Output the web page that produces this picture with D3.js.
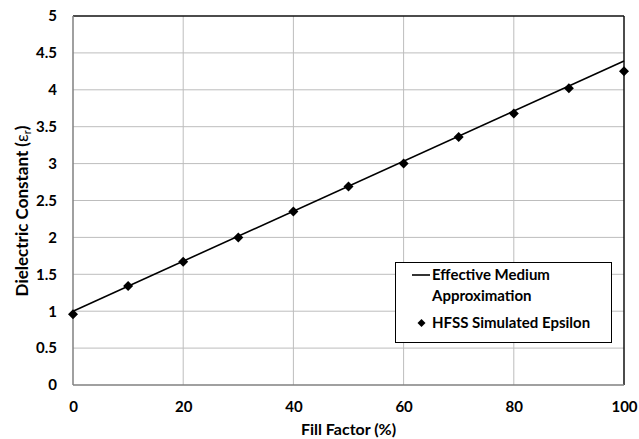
<!DOCTYPE html>
<html>
<head>
<meta charset="utf-8">
<script src="https://cdn.jsdelivr.net/npm/d3@7"></script>
<style>
  html, body { margin: 0; padding: 0; background: #fff; }
  svg { display: block; }
  text { font-family: Lato, "Open Sans", sans-serif; font-weight: bold; fill: #000; }
</style>
</head>
<body>
<svg id="chart" width="639" height="439"></svg>
<script>
// Fill factor (%) at which HFSS was run
const fillFactor = [0, 10, 20, 30, 40, 50, 60, 70, 80, 90, 100];
// HFSS simulated effective permittivity
const hfssEpsilon = [0.96, 1.34, 1.67, 2.00, 2.35, 2.69, 3.00, 3.36, 3.68, 4.02, 4.25];
// Effective medium approximation (linear mix)
const emaFill = [0, 100];
const emaEpsilon = [1.0, 4.39];

const xTicks = [0, 20, 40, 60, 80, 100];
const yTicks = [0, 0.5, 1, 1.5, 2, 2.5, 3, 3.5, 4, 4.5, 5];

const legendLabels = ["Effective Medium", "Approximation", "HFSS Simulated Epsilon"];

const svg = d3.select("#chart");
const m = { left: 73, right: 624, top: 16, bottom: 385 };

const x = d3.scaleLinear().domain([0, 100]).range([m.left, m.right]);
const y = d3.scaleLinear().domain([0, 5]).range([m.bottom, m.top]);

// gridlines
svg.append("g").selectAll("line").data(yTicks.filter(d => d > 0 && d < 5)).join("line")
  .attr("x1", m.left).attr("x2", m.right)
  .attr("y1", d => y(d)).attr("y2", d => y(d))
  .attr("stroke", "#bdbdbd").attr("stroke-width", 1);
svg.append("g").selectAll("line").data(xTicks.filter(d => d > 0 && d < 100)).join("line")
  .attr("y1", m.top).attr("y2", m.bottom)
  .attr("x1", d => x(d)).attr("x2", d => x(d))
  .attr("stroke", "#bdbdbd").attr("stroke-width", 1);

// plot frame: top and right in black, axes in grey
svg.append("line").attr("x1", m.left).attr("x2", m.right).attr("y1", m.top).attr("y2", m.top)
  .attr("stroke", "#111").attr("stroke-width", 1.5);
svg.append("line").attr("x1", m.right).attr("x2", m.right).attr("y1", m.top).attr("y2", m.bottom)
  .attr("stroke", "#111").attr("stroke-width", 1.5);
svg.append("line").attr("x1", m.left).attr("x2", m.left).attr("y1", m.top).attr("y2", m.bottom)
  .attr("stroke", "#808080").attr("stroke-width", 1.5);
svg.append("line").attr("x1", m.left).attr("x2", m.right).attr("y1", m.bottom).attr("y2", m.bottom)
  .attr("stroke", "#808080").attr("stroke-width", 1.5);

// axes tick labels
const yAxis = d3.axisLeft(y).tickValues(yTicks).tickSize(0).tickPadding(16).tickFormat(d => String(d));
const gy = svg.append("g").attr("transform", `translate(${m.left},0)`).call(yAxis);
gy.select(".domain").remove();
gy.selectAll("text").attr("font-size", 15).attr("font-family", "Lato, sans-serif").attr("font-weight", "bold").attr("fill", "#000");

const xAxis = d3.axisBottom(x).tickValues(xTicks).tickSize(0).tickPadding(16).tickFormat(d => String(d));
const gx = svg.append("g").attr("transform", `translate(0,${m.bottom})`).call(xAxis);
gx.select(".domain").remove();
gx.selectAll("text").attr("font-size", 15).attr("font-family", "Lato, sans-serif").attr("font-weight", "bold").attr("fill", "#000");

// axis titles
svg.append("text").attr("x", (m.left + m.right) / 2).attr("y", 435)
  .attr("text-anchor", "middle").attr("font-size", 16).text("Fill Factor (%)");

const yt = svg.append("text").attr("transform", `translate(28,211) rotate(-90)`)
  .attr("text-anchor", "middle").attr("font-size", 17);
yt.append("tspan").text("Dielectric Constant (");
yt.append("tspan").attr("font-weight", "normal").text("ε");
yt.append("tspan").attr("font-weight", "normal").attr("font-size", 11).attr("dy", 3).text("r");
yt.append("tspan").attr("dy", -3).text(")");

// effective medium line
const line = d3.line().x(d => x(d[0])).y(d => y(d[1]));
svg.append("path").datum(d3.zip(emaFill, emaEpsilon)).attr("d", line)
  .attr("fill", "none").attr("stroke", "#000").attr("stroke-width", 1.6);

// HFSS points: square rotated 45 degrees
const diamond = "M0,-5L5,0L0,5L-5,0Z";
svg.append("g").selectAll("path").data(d3.zip(fillFactor, hfssEpsilon)).join("path")
  .attr("d", diamond)
  .attr("transform", d => `translate(${x(d[0])},${y(d[1])})`)
  .attr("fill", "#000");

// legend
const lg = svg.append("g");
lg.append("rect").attr("x", 395.5).attr("y", 262.5).attr("width", 216).attr("height", 80)
  .attr("fill", "#fff").attr("stroke", "#000").attr("stroke-width", 1);
lg.append("line").attr("x1", 412).attr("x2", 430).attr("y1", 275).attr("y2", 275)
  .attr("stroke", "#000").attr("stroke-width", 1.6);
lg.append("path").attr("d", "M0,-4L4,0L0,4L-4,0Z").attr("transform", "translate(421.5,323)").attr("fill", "#000");
lg.append("text").attr("x", 432).attr("y", 280).attr("font-size", 15).text(legendLabels[0]);
lg.append("text").attr("x", 432).attr("y", 301).attr("font-size", 15).text(legendLabels[1]);
lg.append("text").attr("x", 432).attr("y", 328).attr("font-size", 15).text(legendLabels[2]);
</script>
</body>
</html>
